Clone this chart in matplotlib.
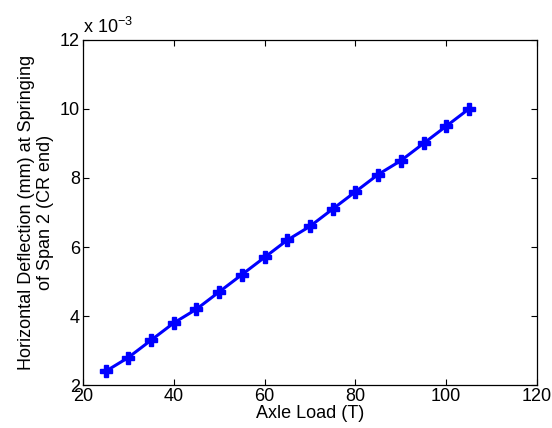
import matplotlib
matplotlib.use("Agg")
import matplotlib.pyplot as plt

plt.rcParams['font.family'] = ['Liberation Sans', 'DejaVu Sans']

# axle load (T) vs horizontal deflection (x 1e-3 mm)
axle_load = [25, 30, 35, 40, 45, 50, 55, 60, 65, 70, 75, 80, 85, 90, 95, 100, 105]
deflection = [2.4, 2.8, 3.3, 3.8, 4.2, 4.7, 5.2, 5.7, 6.2, 6.6, 7.1, 7.6, 8.1, 8.5, 9.0, 9.5, 10.0]

fig = plt.figure(figsize=(5.52, 4.28), dpi=100)
ax = fig.add_axes([0.150, 0.100, 0.823, 0.807])

ax.plot(axle_load, deflection, color='#0000ff', lw=2.2, marker='P', ms=8, mec='#0000ff')

ax.set_xlim(20, 120)
ax.set_ylim(2, 12)
ax.set_xticks([20, 40, 60, 80, 100, 120])
ax.set_yticks([2, 4, 6, 8, 10, 12])
ax.tick_params(direction='in', top=True, right=True, labelsize=13, length=4, width=0.8, pad=2)
for s in ax.spines.values():
    s.set_linewidth(0.9)

ax.set_xlabel('Axle Load (T)', fontsize=13, labelpad=0)
ax.set_ylabel('Horizontal Deflection (mm) at Springing\nof Span 2 (CR end)', fontsize=13, labelpad=4)
ax.text(0.0, 1.008, r'x 10$^{\mathregular{-3}}$', transform=ax.transAxes, fontsize=13, ha='left', va='bottom')

plt.savefig("out.png", dpi=100)
